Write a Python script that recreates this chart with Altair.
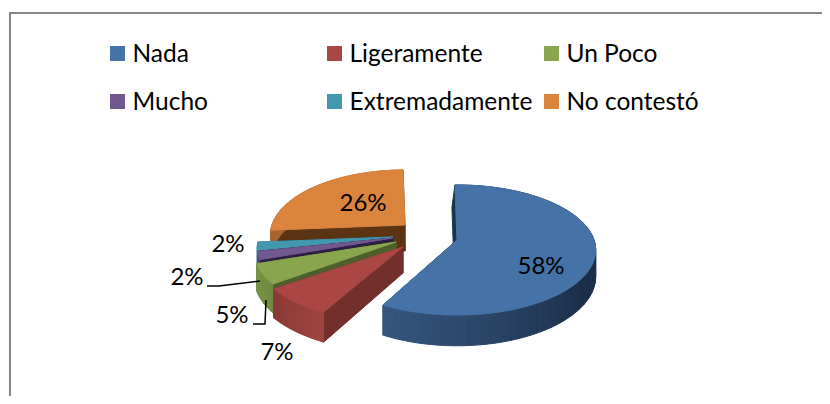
import math
import altair as alt
import pandas as pd

# ---- chart values ----
CATEGORIES = ["Nada", "Ligeramente", "Un Poco", "Mucho", "Extremadamente", "No contestó"]
PERCENTS = [58, 7, 5, 2, 2, 26]
COLORS = ["#4572a7", "#aa4643", "#89a54e", "#71588f", "#4198af", "#db843d"]

# ---- layout and style (page pixels) ----
M = 8
APEX = [(457, 240), (403, 247), (396, 242), (393, 238), (393, 237), (405, 225)]
RADIUS_X = [137, 147, 140, 134, 134, 133]
RADIUS_Y = 63.5
PERSP = 0.154
DEPTH = 26
FIRST_ANGLE = -1.0
EDGE_WALL = ["#1e3250", "#722f2c", "#4d5f2a", "#2c1e44", "#1d4a58", "#5a3413"]
RIM_LEFT = ["#36577f", "#8a3a37", "#7a9445", "#5a4672", "#34798c", "#a8652f"]
RIM_RIGHT = ["#1c2f4a", "#a04340", "#6f8a3e", "#5a4672", "#34798c", "#a8652f"]
START_FACE_DX = [-3, 0, 0, 0, 0, 0]
LEGEND_X = [117.5, 334.5, 551.5, 117.5, 334.5, 551.5]
LEGEND_Y = [53.5, 53.5, 53.5, 101.5, 101.5, 101.5]
LEGEND_BASE = [62, 62, 62, 110, 110, 110]
LABEL_X = [541, 277, 232, 187, 228, 363]
LABEL_Y = [274, 360, 323, 285, 252, 211]
FONT = "Lato"
LEGEND_FS = 24.5
LABEL_FS = 24


def hexmix(a, b, t):
    ca = [int(a[i:i + 2], 16) for i in (1, 3, 5)]
    cb = [int(b[i:i + 2], 16) for i in (1, 3, 5)]
    return "#%02x%02x%02x" % tuple(round(x + (y - x) * t) for x, y in zip(ca, cb))


def rim(i, phi):
    u, v = math.sin(phi), -math.cos(phi)
    s = 1 / (1 - PERSP * v)
    ax, ay = APEX[i]
    return ax + RADIUS_X[i] * u * s - M, ay + RADIUS_Y * v * s - M, s


def poly(points, fill):
    ring = [list(p) for p in points] + [list(points[0])]
    return {"type": "Feature", "properties": {"fill": fill},
            "geometry": {"type": "Polygon", "coordinates": [ring]}}


features = []
starts = []
acc = 0
for p in PERCENTS:
    starts.append(acc)
    acc += p

for i in [5, 4, 3, 2, 1, 0]:
    a0 = starts[i] / 100 * 2 * math.pi + math.radians(FIRST_ANGLE)
    a1 = a0 + PERCENTS[i] / 100 * 2 * math.pi
    n = max(6, int(PERCENTS[i] * 1.5))
    phis = [a0 + (a1 - a0) * j / n for j in range(n + 1)]
    ax, ay = APEX[i][0] - M, APEX[i][1] - M
    low = lambda x, y, s, dx=0: (x + dx, y + DEPTH * s)
    # flat cut faces
    for phi, dx in ((a1, 0), (a0, START_FACE_DX[i])):
        x, y, s = rim(i, phi)
        features.append(poly([(ax, ay), (x, y), low(x, y, s, dx), (ax + dx, ay + DEPTH)], EDGE_WALL[i]))
    # curved outer wall, shaded left to right
    for j in range(n):
        x1, y1, s1 = rim(i, phis[j])
        x2, y2, s2 = rim(i, phis[j + 1])
        phim = (phis[j] + phis[j + 1]) / 2
        if i == 0:
            t = min(1, max(0, (a1 - phim) / (a1 - math.radians(125))))
        else:
            t = (a1 - phim) / (a1 - a0)
        features.append(poly([(x1, y1), (x2, y2), low(x2, y2, s2), low(x1, y1, s1)],
                             hexmix(RIM_LEFT[i], RIM_RIGHT[i], t)))
    # top face
    top = [(ax, ay)] + [rim(i, phi)[:2] for phi in phis]
    features.append(poly(top, COLORS[i]))

pie = (
    alt.Chart(alt.Data(values=features))
    .mark_geoshape(strokeWidth=1)
    .encode(fill=alt.Fill("properties.fill:N", scale=None),
            stroke=alt.Stroke("properties.fill:N", scale=None))
    .project(type="identity", scale=1, translate=[0, 0])
)

X = lambda f: alt.X(f, scale=None, axis=None)
Y = lambda f: alt.Y(f, scale=None, axis=None)

legend_df = pd.DataFrame({
    "name": CATEGORIES, "color": COLORS,
    "x": [v - M for v in LEGEND_X], "y": [v - M for v in LEGEND_Y],
    "tx": [v - M + 15 for v in LEGEND_X], "ty": [v - M for v in LEGEND_BASE],
})
swatches = alt.Chart(legend_df).mark_square(size=225, opacity=1).encode(
    x=X("x:Q"), y=Y("y:Q"), color=alt.Color("color:N", scale=None))
legend_text = alt.Chart(legend_df).mark_text(
    align="left", baseline="alphabetic", font=FONT, fontSize=LEGEND_FS, color="#000000"
).encode(x=X("tx:Q"), y=Y("ty:Q"), text="name:N")

label_df = pd.DataFrame({
    "text": [f"{v}%" for v in PERCENTS],
    "x": [v - M for v in LABEL_X], "y": [v - M for v in LABEL_Y],
})
labels = alt.Chart(label_df).mark_text(
    align="center", baseline="alphabetic", font=FONT, fontSize=LABEL_FS, color="#000000"
).encode(x=X("x:Q"), y=Y("y:Q"), text="text:N")

leader_df = pd.DataFrame({
    "g": ["a", "a", "a", "b", "b", "b"], "i": [0, 1, 2, 0, 1, 2],
    "x": [v - M for v in [207, 219, 260, 253, 265, 266]],
    "y": [v - M for v in [286, 286, 281, 324, 324, 300]],
})
leaders = alt.Chart(leader_df).mark_line(color="#000000", strokeWidth=1.5).encode(
    x=X("x:Q"), y=Y("y:Q"), detail="g:N", order="i:O")

border_df = pd.DataFrame({"i": [0, 1, 2], "x": [814, 2, 2], "y": [5, 5, 388]})
border = alt.Chart(border_df).mark_line(color="#868686", strokeWidth=2).encode(
    x=X("x:Q"), y=Y("y:Q"), order="i:O")

chart = (
    alt.layer(border, pie, leaders, labels, swatches, legend_text)
    .properties(width=814, height=388, padding=0, autosize="none", background="#ffffff")
    .configure_view(stroke=None)
)
chart.save("out.html", embed_options={"renderer": "svg", "actions": False})
